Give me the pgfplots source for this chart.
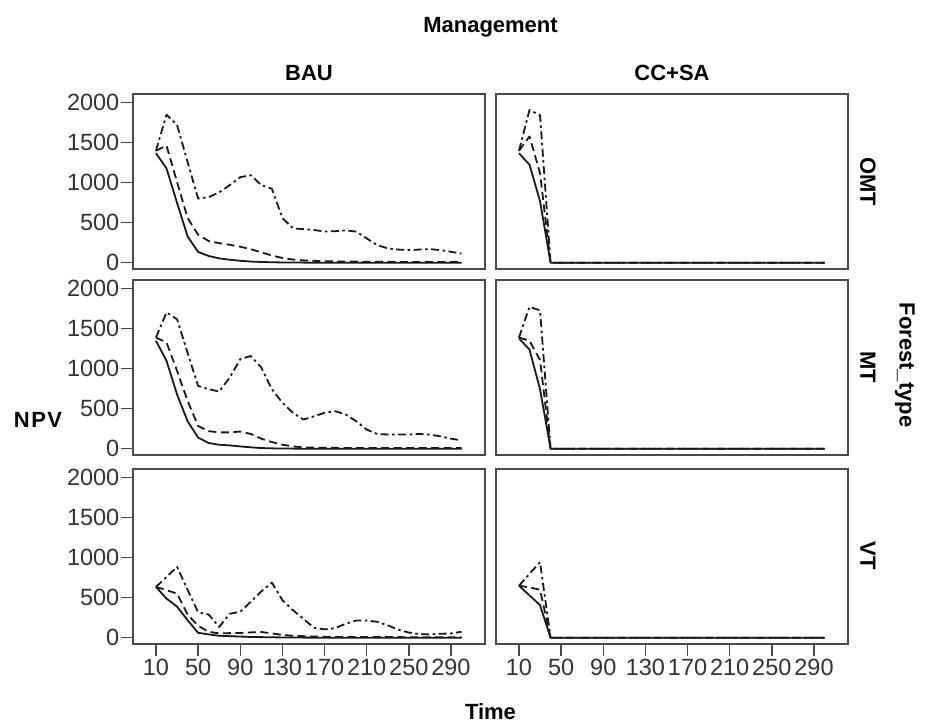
\documentclass[border=0pt]{standalone}
\usepackage{fontspec}
\setmainfont{Liberation Sans}
\usepackage{pgfplots}
\pgfplotsset{compat=1.18}
\usepackage{pgfplotstable}

% columns: t = Time, s = solid series, d = dashed series, dd = dash-dot series
\pgfplotstableread{
t s d dd
10 1370 1400 1400
20 1180 1465 1852
30 750 1010 1725
40 330 560 1260
50 135 350 803
60 85 272 820
70 55 245 880
80 38 225 970
90 25 200 1070
100 15 170 1095
110 10 130 970
120 6 90 925
130 4 60 560
140 3 40 430
150 2 30 420
160 1 24 410
170 1 20 390
180 0 17 395
190 0 15 405
200 0 14 390
210 0 13 305
220 0 12 220
230 0 12 180
240 0 11 165
250 0 10 158
260 0 10 165
270 0 10 170
280 0 10 158
290 0 10 137
300 0 10 115
}\omtbau

\pgfplotstableread{
t s d dd
10 1350 1390 1390
20 1100 1330 1705
30 680 975 1620
40 345 600 1200
50 140 285 785
60 72 220 745
70 50 205 715
80 42 205 890
90 29 215 1120
100 18 185 1160
110 9 126 1015
120 5 84 745
130 3 50 575
140 2 30 450
150 1 18 365
160 0 14 405
170 0 12 450
180 0 11 470
190 0 10 430
200 0 10 345
210 0 9 240
220 0 9 185
230 0 8 178
240 0 8 178
250 0 8 178
260 0 8 185
270 0 8 176
280 0 8 155
290 0 8 126
300 0 8 105
}\mtbau

\pgfplotstableread{
t s d dd
10 636 636 636
20 490 595 760
30 390 553 886
40 220 290 600
50 62 150 320
60 42 75 290
70 25 55 135
80 20 58 300
90 15 60 325
100 10 67 450
110 8 72 580
120 6 55 690
130 4 35 470
140 3 25 345
150 2 20 235
160 1 15 125
170 1 12 105
180 0 10 120
190 0 10 175
200 0 9 215
210 0 9 215
220 0 8 200
230 0 8 155
240 0 8 100
250 0 7 65
260 0 7 45
270 0 7 42
280 0 7 50
290 0 7 54
300 0 7 75
}\vtbau

\pgfplotstableread{
t s d dd
10 1370 1400 1400
20 1225 1580 1910
30 770 1120 1845
40 0 0 0
50 0 0 0
60 0 0 0
70 0 0 0
80 0 0 0
90 0 0 0
100 0 0 0
110 0 0 0
120 0 0 0
130 0 0 0
140 0 0 0
150 0 0 0
160 0 0 0
170 0 0 0
180 0 0 0
190 0 0 0
200 0 0 0
210 0 0 0
220 0 0 0
230 0 0 0
240 0 0 0
250 0 0 0
260 0 0 0
270 0 0 0
280 0 0 0
290 0 0 0
300 0 0 0
}\omtcc

\pgfplotstableread{
t s d dd
10 1380 1390 1390
20 1240 1350 1775
30 745 1110 1730
40 0 0 0
50 0 0 0
60 0 0 0
70 0 0 0
80 0 0 0
90 0 0 0
100 0 0 0
110 0 0 0
120 0 0 0
130 0 0 0
140 0 0 0
150 0 0 0
160 0 0 0
170 0 0 0
180 0 0 0
190 0 0 0
200 0 0 0
210 0 0 0
220 0 0 0
230 0 0 0
240 0 0 0
250 0 0 0
260 0 0 0
270 0 0 0
280 0 0 0
290 0 0 0
300 0 0 0
}\mtcc

\pgfplotstableread{
t s d dd
10 650 650 650
20 530 630 800
30 408 600 945
40 0 0 0
50 0 0 0
60 0 0 0
70 0 0 0
80 0 0 0
90 0 0 0
100 0 0 0
110 0 0 0
120 0 0 0
130 0 0 0
140 0 0 0
150 0 0 0
160 0 0 0
170 0 0 0
180 0 0 0
190 0 0 0
200 0 0 0
210 0 0 0
220 0 0 0
230 0 0 0
240 0 0 0
250 0 0 0
260 0 0 0
270 0 0 0
280 0 0 0
290 0 0 0
300 0 0 0
}\vtcc

\definecolor{framegray}{HTML}{4A4A4A}
\definecolor{labelgray}{HTML}{333333}

\pgfplotsset{
  panel/.style={
    scale only axis, width=352pt, height=175pt,
    xmin=-11.8, xmax=322.3, ymin=-78, ymax=2110,
    axis line style={draw=framegray, line width=1.4pt},
    tick style={draw=framegray, line width=1.4pt},
    major tick length=12pt, tick align=outside, tick pos=left,
    xtick=\empty, ytick=\empty,
    ticklabel style={font=\fontsize{23.5}{23.5}\selectfont, text=labelgray},
    yticklabel style={inner xsep=1.5pt},
    xticklabel style={inner ysep=3pt},
    /pgf/number format/assume math mode=true,
    /pgf/number format/1000 sep={},
    anchor=south west,
  },
  leftpanel/.style={ytick={0,500,1000,1500,2000}},
  bottompanel/.style={xtick={10,50,90,130,170,210,250,290}},
  sol/.style={black!90, line width=1.8pt, line join=round, no marks},
  das/.style={black!90, line width=1.8pt, line join=round, no marks, dash pattern=on 8pt off 4.5pt},
  ddot/.style={black!90, line width=1.8pt, line join=round, no marks, dash pattern=on 8pt off 3.5pt on 2.5pt off 3.5pt},
}

\newcommand{\threelines}[1]{%
  \addplot[sol] table[x=t, y=s] {#1};
  \addplot[das] table[x=t, y=d] {#1};
  \addplot[ddot] table[x=t, y=dd] {#1};
}

\begin{document}
\begin{tikzpicture}[x=1pt, y=1pt]
\path[use as bounding box] (0,0) rectangle (927,724);

% row 1 (OMT)
\begin{axis}[panel, leftpanel, at={(133pt,455pt)}]
\threelines{\omtbau}
\end{axis}
\begin{axis}[panel, at={(496pt,455pt)}]
\threelines{\omtcc}
\end{axis}

% row 2 (MT)
\begin{axis}[panel, leftpanel, at={(133pt,269pt)}]
\threelines{\mtbau}
\end{axis}
\begin{axis}[panel, at={(496pt,269pt)}]
\threelines{\mtcc}
\end{axis}

% row 3 (VT)
\begin{axis}[panel, leftpanel, bottompanel, at={(133pt,80pt)}]
\threelines{\vtbau}
\end{axis}
\begin{axis}[panel, bottompanel, at={(496pt,80pt)}]
\threelines{\vtcc}
\end{axis}

\tikzset{ttl/.style={font=\fontsize{22}{22}\selectfont\bfseries, inner sep=0pt}}
\node[ttl] at (490.5,697) {Management};
\node[ttl] at (309,651) {BAU};
\node[ttl] at (672,651) {CC+SA};
\node[ttl, rotate=-90] at (868,542.5) {OMT};
\node[ttl, rotate=-90] at (868,356.5) {MT};
\node[ttl, rotate=-90] at (868,168) {VT};
\node[ttl, rotate=-90] at (905,359) {Forest\_type};
\node[ttl] at (38,304) {N\kern1.5pt P\kern1.5pt V};
\node[ttl] at (490.5,12) {Time};
\end{tikzpicture}
\end{document}
